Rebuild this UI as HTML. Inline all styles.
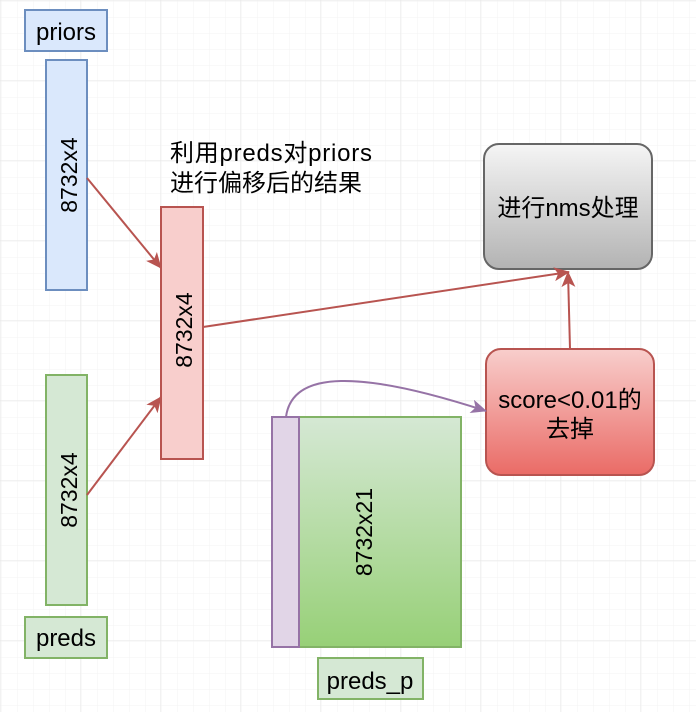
<!DOCTYPE html>
<html><head><meta charset="utf-8"><style>
html,body{margin:0;padding:0;background:#fff;}
svg{display:block;font-family:"Liberation Sans","Noto Sans CJK SC",sans-serif;}
</style></head><body>
<svg width="696" height="712" viewBox="0 0 696 712" xmlns="http://www.w3.org/2000/svg">
<defs>
<pattern id="g" width="16" height="16" patternUnits="userSpaceOnUse" x="1" y="1"><path d="M16 0V16M0 16H16" stroke="#f3f3f3" stroke-width="1" fill="none"/></pattern>
<pattern id="G" width="80" height="80" patternUnits="userSpaceOnUse" x="1" y="1"><rect width="80" height="80" fill="url(#g)"/><path d="M80 0V80M0 80H80" stroke="#e6e6e6" stroke-width="1" fill="none"/></pattern>
<linearGradient id="gray" x1="0" y1="0" x2="0" y2="1"><stop offset="0" stop-color="#f5f5f5"/><stop offset="1" stop-color="#b3b3b3"/></linearGradient>
<linearGradient id="red" x1="0" y1="0" x2="0" y2="1"><stop offset="0" stop-color="#f8cecc"/><stop offset="1" stop-color="#ea6b66"/></linearGradient>
<linearGradient id="grn" x1="0" y1="0" x2="0" y2="1"><stop offset="0" stop-color="#d5e8d4"/><stop offset="1" stop-color="#97d077"/></linearGradient>
<marker id="ar" markerWidth="16" markerHeight="14" refX="15" refY="7" orient="auto" markerUnits="userSpaceOnUse"><path d="M0,0L16,7L0,14L4,7Z" fill="#b85450"/></marker>
<marker id="ap" markerWidth="16" markerHeight="14" refX="15" refY="7" orient="auto" markerUnits="userSpaceOnUse"><path d="M0,0L16,7L0,14L4,7Z" fill="#9673a6"/></marker>
</defs>
<rect width="696" height="712" fill="url(#G)"/>
<rect x="25" y="10" width="82" height="41" fill="#dae8fc" stroke="#6c8ebf" stroke-width="2"/>
<text x="66" y="40" font-size="24" text-anchor="middle">priors</text>
<rect x="46" y="60" width="41" height="230" fill="#dae8fc" stroke="#6c8ebf" stroke-width="2"/>
<text transform="translate(77,175) rotate(-90)" font-size="23" text-anchor="middle">8732x4</text>
<rect x="46" y="375" width="41" height="230" fill="#d5e8d4" stroke="#82b366" stroke-width="2"/>
<text transform="translate(77,490) rotate(-90)" font-size="23" text-anchor="middle">8732x4</text>
<rect x="25" y="617" width="82" height="41" fill="#d5e8d4" stroke="#82b366" stroke-width="2"/>
<text x="66" y="646" font-size="24" text-anchor="middle">preds</text>
<rect x="161" y="207" width="42" height="252" fill="#f8cecc" stroke="#b85450" stroke-width="2"/>
<text transform="translate(192,330) rotate(-90)" font-size="23" text-anchor="middle">8732x4</text>
<text x="170" y="161" font-size="24" textLength="202">利用preds对priors</text>
<text x="170" y="191" font-size="24">进行偏移后的结果</text>
<rect x="484" y="144" width="168" height="125" rx="15" fill="url(#gray)" stroke="#666" stroke-width="2"/>
<text x="568" y="216" font-size="24" text-anchor="middle">进行nms处理</text>
<rect x="486" y="349" width="168" height="126" rx="15" fill="url(#red)" stroke="#b85450" stroke-width="2"/>
<text x="570" y="408" font-size="24" text-anchor="middle">score&lt;0.01的</text>
<text x="570" y="437" font-size="24" text-anchor="middle">去掉</text>
<rect x="299" y="417" width="162" height="230" fill="url(#grn)" stroke="#82b366" stroke-width="2"/>
<rect x="272" y="417" width="27" height="230" fill="#e1d5e7" stroke="#9673a6" stroke-width="2"/>
<text transform="translate(372,532) rotate(-90)" font-size="23" text-anchor="middle">8732x21</text>
<rect x="318" y="658" width="105" height="41" fill="#d5e8d4" stroke="#82b366" stroke-width="2"/>
<text x="370" y="689" font-size="24" text-anchor="middle">preds_p</text>
<g stroke="#b85450" stroke-width="2" fill="none">
<path d="M87,178L161,268" marker-end="url(#ar)"/>
<path d="M87,495L161,397" marker-end="url(#ar)"/>
<path d="M203,327L569,272" marker-end="url(#ar)"/>
<path d="M570,349L568,272" marker-end="url(#ar)"/>
</g>
<path d="M286,417C292,370 360,370 486,411" stroke="#9673a6" stroke-width="2" fill="none" marker-end="url(#ap)"/>
</svg>
</body></html>
